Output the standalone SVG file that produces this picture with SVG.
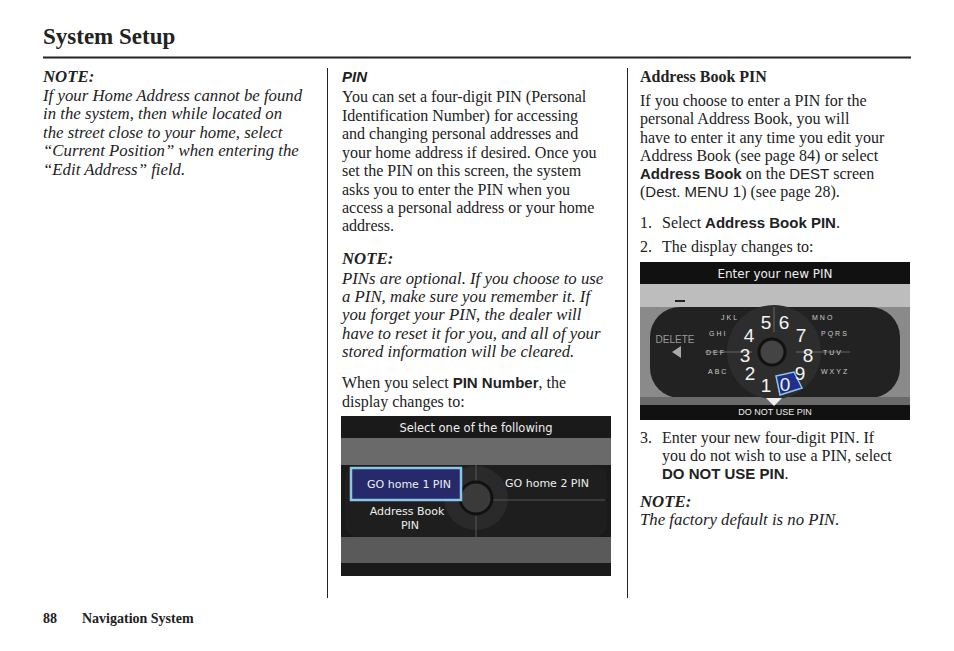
<svg xmlns="http://www.w3.org/2000/svg" width="954" height="651" viewBox="0 0 954 651">
<style>
.t{font-family:"Liberation Serif",serif;font-size:16px;fill:#222}
.i{font-style:italic;font-size:16.8px}
.b{font-weight:bold}
.s{font-family:"Liberation Sans",sans-serif;font-weight:bold;font-size:15px;font-style:normal}
.w{font-family:"DejaVu Sans",sans-serif;fill:#eee}
.g{font-family:"Liberation Sans",sans-serif;fill:#ccc;font-size:7px;letter-spacing:2px}
.d{font-family:"Liberation Sans",sans-serif;fill:#f4f4f4;font-size:19px}
</style>
<rect width="954" height="651" fill="#fff"/>
<g id="header">
<text x="43" y="44" class="t b" style="font-size:23px">System Setup</text>
<line x1="43" y1="57.5" x2="911" y2="57.5" stroke="#222" stroke-width="2"/>
<line x1="327.5" y1="68" x2="327.5" y2="598" stroke="#222"/>
<line x1="627.5" y1="68" x2="627.5" y2="598" stroke="#222"/>
</g>
<g id="col1" class="t i">
<text x="43" y="82" class="b">NOTE:</text>
<text x="43" y="101">If your Home Address cannot be found</text>
<text x="43" y="119">in the system, then while located on</text>
<text x="43" y="138">the street close to your home, select</text>
<text x="43" y="156">“Current Position” when entering the</text>
<text x="43" y="175">“Edit Address” field.</text>
</g>
<g id="col2" class="t">
<text x="342" y="82" class="s" style="font-style:italic">PIN</text>
<text x="342" y="102">You can set a four-digit PIN (Personal</text>
<text x="342" y="121">Identification Number) for accessing</text>
<text x="342" y="139">and changing personal addresses and</text>
<text x="342" y="158">your home address if desired. Once you</text>
<text x="342" y="176">set the PIN on this screen, the system</text>
<text x="342" y="195">asks you to enter the PIN when you</text>
<text x="342" y="213">access a personal address or your home</text>
<text x="342" y="231">address.</text>
<text x="342" y="264" class="i b">NOTE:</text>
<text x="342" y="284" class="i">PINs are optional. If you choose to use</text>
<text x="342" y="302" class="i">a PIN, make sure you remember it. If</text>
<text x="342" y="320" class="i">you forget your PIN, the dealer will</text>
<text x="342" y="339" class="i">have to reset it for you, and all of your</text>
<text x="342" y="357" class="i">stored information will be cleared.</text>
<text x="342" y="388">When you select <tspan class="s">PIN Number</tspan>, the</text>
<text x="342" y="407">display changes to:</text>
</g>
<g id="screen1">
<rect x="341" y="416" width="270" height="160" fill="#1a1a1a"/>
<rect x="341" y="438" width="270" height="27" fill="#6a6a6a"/>
<rect x="341" y="537" width="270" height="26" fill="#5a5a5a"/>
<rect x="345" y="465" width="262" height="72" rx="14" fill="#1e1e1e"/>
<circle cx="476" cy="498" r="32" fill="#2a2a2a"/>
<line x1="476" y1="465" x2="476" y2="537" stroke="#555"/>
<line x1="476" y1="500" x2="605" y2="500" stroke="#555"/>
<circle cx="476" cy="498" r="16" fill="#3a3a3a" stroke="#111" stroke-width="3"/>
<rect x="351" y="468" width="110" height="32" fill="#262a6a" stroke="#8cc6e6" stroke-width="2.5"/>
<text x="476" y="432" class="w" font-size="11.5" text-anchor="middle">Select one of the following</text>
<text x="409" y="488" class="w" font-size="11" text-anchor="middle">GO home 1 PIN</text>
<text x="547" y="487" class="w" font-size="11" text-anchor="middle">GO home 2 PIN</text>
<text x="407" y="515" class="w" font-size="11" text-anchor="middle">Address Book</text>
<text x="410" y="529" class="w" font-size="11" text-anchor="middle">PIN</text>
</g>
<g id="col3" class="t">
<text x="640" y="82" class="b">Address Book PIN</text>
<text x="640" y="106">If you choose to enter a PIN for the</text>
<text x="640" y="124">personal Address Book, you will</text>
<text x="640" y="143">have to enter it any time you edit your</text>
<text x="640" y="161">Address Book (see page 84) or select</text>
<text x="640" y="179"><tspan class="s">Address Book</tspan> on the <tspan style="font-family:'Liberation Sans',sans-serif;font-size:15px">DEST</tspan> screen</text>
<text x="640" y="197">(<tspan style="font-family:'Liberation Sans',sans-serif;font-size:15px">Dest. MENU 1</tspan>) (see page 28).</text>
<text x="640" y="228">1.</text><text x="662" y="228">Select <tspan class="s">Address Book PIN</tspan>.</text>
<text x="640" y="252">2.</text><text x="662" y="252">The display changes to:</text>
<text x="640" y="443">3.</text><text x="662" y="443">Enter your new four-digit PIN. If</text>
<text x="662" y="461">you do not wish to use a PIN, select</text>
<text x="662" y="479"><tspan class="s">DO NOT USE PIN</tspan>.</text>
<text x="640" y="507" class="i b">NOTE:</text>
<text x="640" y="525" class="i">The factory default is no PIN.</text>
</g>
<g id="screen2">
<rect x="640" y="262" width="270" height="158" fill="#111"/>
<rect x="640" y="284" width="270" height="23" fill="#bdbdbd"/>
<rect x="640" y="307" width="270" height="91" fill="#8a8a8a"/>
<rect x="650" y="307" width="250" height="91" rx="30" fill="#222"/>
<rect x="640" y="397" width="270" height="8" fill="#6a6a6a"/>
<circle cx="774" cy="352" r="47" fill="#2d2d2d"/>
<line x1="774" y1="307" x2="774" y2="332" stroke="#666"/>
<line x1="705" y1="352" x2="752" y2="352" stroke="#666"/>
<line x1="796" y1="352" x2="850" y2="352" stroke="#666"/>
<circle cx="772" cy="352" r="13" fill="#444" stroke="#111" stroke-width="3"/>
<polygon points="776,376 794,372 802,388 780,395" fill="#1e2f8e" stroke="#8cc6e6" stroke-width="1.5"/>
<polygon points="766,398 782,398 774,406" fill="#eee"/>
<rect x="675" y="300" width="10" height="2" fill="#222"/>
<text x="775" y="278" class="w" font-size="12" text-anchor="middle">Enter your new PIN</text>
<text x="775" y="415" class="w" font-size="9" text-anchor="middle" style="font-family:'Liberation Sans',sans-serif">DO NOT USE PIN</text>
<text x="675" y="343" style="font-family:'Liberation Sans',sans-serif;font-size:10px;fill:#999" text-anchor="middle">DELETE</text>
<polygon points="672,352 681,346 681,358" fill="#aaa"/>
<text x="721" y="320" class="g">JKL</text><text x="812" y="320" class="g">MNO</text>
<text x="709" y="336" class="g">GHI</text><text x="821" y="336" class="g">PQRS</text>
<text x="706" y="355" class="g">DEF</text><text x="823" y="355" class="g">TUV</text>
<text x="708" y="374" class="g">ABC</text><text x="821" y="374" class="g">WXYZ</text>
<text x="766" y="329" class="d" text-anchor="middle">5</text>
<text x="784" y="329" class="d" text-anchor="middle">6</text>
<text x="749" y="342" class="d" text-anchor="middle">4</text>
<text x="801" y="342" class="d" text-anchor="middle">7</text>
<text x="745" y="362" class="d" text-anchor="middle">3</text>
<text x="808" y="362" class="d" text-anchor="middle">8</text>
<text x="750" y="380" class="d" text-anchor="middle">2</text>
<text x="800" y="380" class="d" text-anchor="middle">9</text>
<text x="766" y="392" class="d" text-anchor="middle">1</text>
<text x="785" y="391" class="d" text-anchor="middle">0</text>
</g>
<g id="footer">
<text x="43" y="623" class="t b" style="font-size:14px">88</text>
<text x="82" y="623" class="t b" style="font-size:14px">Navigation System</text>
</g>
</svg>
